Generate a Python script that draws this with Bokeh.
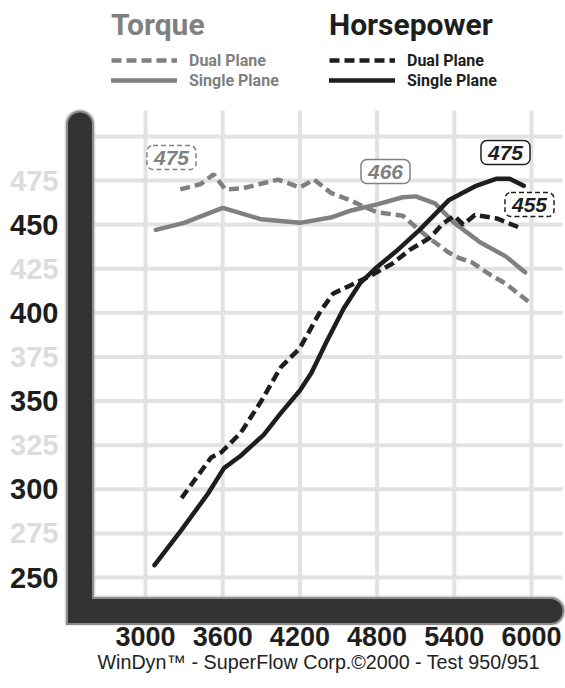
from bokeh.plotting import figure
from bokeh.models import ColumnDataSource, FixedTicker, Legend, LegendItem, Label, Title
from bokeh.core.properties import value
from bokeh.embed import file_html
from bokeh.resources import INLINE

# ---------------- data ----------------
tq_dual_rpm = [3270, 3430, 3530, 3620, 3750, 4030, 4200, 4310, 4440, 4600, 4700, 4800, 5000, 5110, 5230, 5360, 5440, 5540, 5670, 5800, 6000]
tq_dual = [470, 473, 478.5, 470, 470.5, 475.5, 471, 475.5, 468, 463.5, 460, 457, 455, 448, 441, 434, 431, 428.5, 422, 416.5, 405]

tq_single_rpm = [3080, 3300, 3600, 3900, 4200, 4440, 4600, 4800, 5000, 5100, 5250, 5400, 5600, 5800, 5950]
tq_single = [447, 451, 459.5, 453, 451, 454, 458, 461.5, 465.5, 466, 462, 451, 440, 432, 423]

hp_dual_rpm = [3280, 3510, 3590, 3740, 3900, 4050, 4200, 4360, 4460, 4620, 4750, 4920, 5060, 5210, 5310, 5400, 5470, 5560, 5730, 5900]
hp_dual = [295, 318, 321, 332, 350, 369, 380, 401, 411, 416.5, 421, 428, 436, 442.5, 450.5, 455, 450, 455.5, 453.5, 448.5]

hp_single_rpm = [3070, 3280, 3490, 3610, 3740, 3920, 4050, 4200, 4290, 4410, 4540, 4670, 4800, 4950, 5130, 5360, 5570, 5730, 5830, 5940]
hp_single = [257, 277, 298, 312, 319, 331, 343, 356, 366, 384, 402.5, 417, 426, 435, 447, 464, 472, 476, 476, 472]

x_ticks = [3000, 3600, 4200, 4800, 5400, 6000]
y_ticks = [250, 275, 300, 325, 350, 375, 400, 425, 450, 475]
y_grid = [250, 275, 300, 325, 350, 375, 400, 425, 450, 475, 500]
peak_labels = ["475", "466", "475", "455"]

# ---------------- layout helpers (pixel -> data) ----------------
XS = 386.0 / 3000.0
YS = 397.0 / 225.0
def rx(ix):
    return 3000 + (ix - 145) / XS
def ry(iy):
    return 250 + (577 - iy) / YS

GRAY = "#808080"
BLACK = "#1e1e1e"
HEAD = "Roboto"

p = figure(width=565, height=680, x_range=(rx(0), rx(565)), y_range=(ry(625), ry(0)),
           min_border_left=0, min_border_right=0, min_border_top=0, min_border_bottom=55,
           y_axis_location=None, output_backend="svg", toolbar_location=None,
           outline_line_color=None, background_fill_color="white")
p.grid.visible = False

# grid lines
p.segment(x0=[rx(93)] * len(y_grid), x1=[rx(562)] * len(y_grid), y0=y_grid, y1=y_grid,
          line_color="#e2e2e2", line_width=4)
p.segment(x0=x_ticks, x1=x_ticks, y0=[ry(598)] * len(x_ticks), y1=[ry(110)] * len(x_ticks),
          line_color="#e2e2e2", line_width=4)

# thick L-shaped frame with soft edge
lx = [rx(79.5), rx(79.5), rx(550)]
ly = [ry(124), ry(610.5), ry(610.5)]
for w, c, a in [(31, "#c8c8c8", 0.6), (28, "#777777", 0.8), (24, "#333333", 1.0)]:
    p.line(lx, ly, line_width=w, line_color=c, line_alpha=a, line_cap="round", line_join="miter")

# curves
r_tq_dual = p.line(tq_dual_rpm, tq_dual, line_color=GRAY, line_width=4.5, line_dash="10 5")
r_tq_single = p.line(tq_single_rpm, tq_single, line_color=GRAY, line_width=4.5, line_cap="round")
r_hp_dual = p.line(hp_dual_rpm, hp_dual, line_color=BLACK, line_width=4.5, line_dash="10 5")
r_hp_single = p.line(hp_single_rpm, hp_single, line_color=BLACK, line_width=4.5, line_cap="round")

# y tick labels (alternating colours)
ysrc = ColumnDataSource(dict(
    x=[rx(58)] * len(y_ticks), y=y_ticks, t=[str(v) for v in y_ticks],
    c=["#1e1e1e" if (v % 50 == 0) else "#dcdcdc" for v in y_ticks]))
p.text(x="x", y="y", text="t", text_color="c", source=ysrc, text_align="right",
       text_baseline="middle", text_font=value("Liberation Sans"), text_font_style="bold",
       text_font_size="29px")

# x axis
ax = p.xaxis[0]
ax.ticker = FixedTicker(ticks=x_ticks)
ax.axis_line_color = None
ax.major_tick_line_color = None
ax.minor_tick_line_color = None
ax.major_tick_out = 0
ax.major_tick_in = 0
ax.minor_tick_out = 0
ax.major_label_text_font = "Liberation Sans"
ax.major_label_text_font_style = "bold"
ax.major_label_text_font_size = "27px"
ax.major_label_text_color = BLACK
ax.major_label_standoff = 1

# footer
p.add_layout(Title(text="WinDyn\u2122 - SuperFlow Corp.\u00a92000 - Test 950/951", align="left",
                   offset=97, text_font="Liberation Sans", text_font_style="normal",
                   text_font_size="19.7px", text_color="#222222", standoff=0), "below")

# peak value labels
def peak(txt, cx, cy, color, dash):
    return Label(x=rx(cx), y=ry(cy), text=txt, text_align="center", text_baseline="middle",
                 text_font="Liberation Sans", text_font_style="bold italic", text_font_size="21px",
                 text_color=color, border_line_color=color, border_line_width=1.5,
                 border_line_dash=dash, border_radius=6, background_fill_color="white",
                 padding=(7, 5))
p.add_layout(peak(peak_labels[0], 171, 157, GRAY, "5 3"))
p.add_layout(peak(peak_labels[1], 385, 171, GRAY, "solid"))
p.add_layout(peak(peak_labels[2], 505, 152, BLACK, "solid"))
p.add_layout(peak(peak_labels[3], 529, 204, BLACK, "5 3"))

# legends
def make_legend(title, color, items, x):
    return Legend(title=title, items=items, location=(x, 535), orientation="vertical",
                  title_text_font=HEAD, title_text_font_style="bold", title_text_font_size="30px",
                  title_text_color=color, title_standoff=8,
                  label_text_font=HEAD, label_text_font_style="bold", label_text_font_size="16px",
                  label_text_color=color, label_height=20, glyph_height=20, glyph_width=66,
                  label_standoff=12, spacing=0, padding=0, margin=0,
                  border_line_color=None, background_fill_alpha=0)

p.add_layout(make_legend("Torque", GRAY, [LegendItem(label="Dual Plane", renderers=[r_tq_dual]),
                                         LegendItem(label="Single Plane", renderers=[r_tq_single])], 111))
p.add_layout(make_legend("Horsepower", BLACK, [LegendItem(label="Dual Plane", renderers=[r_hp_dual]),
                                              LegendItem(label="Single Plane", renderers=[r_hp_single])], 329))

open("out.html", "w").write(file_html(p, INLINE))
